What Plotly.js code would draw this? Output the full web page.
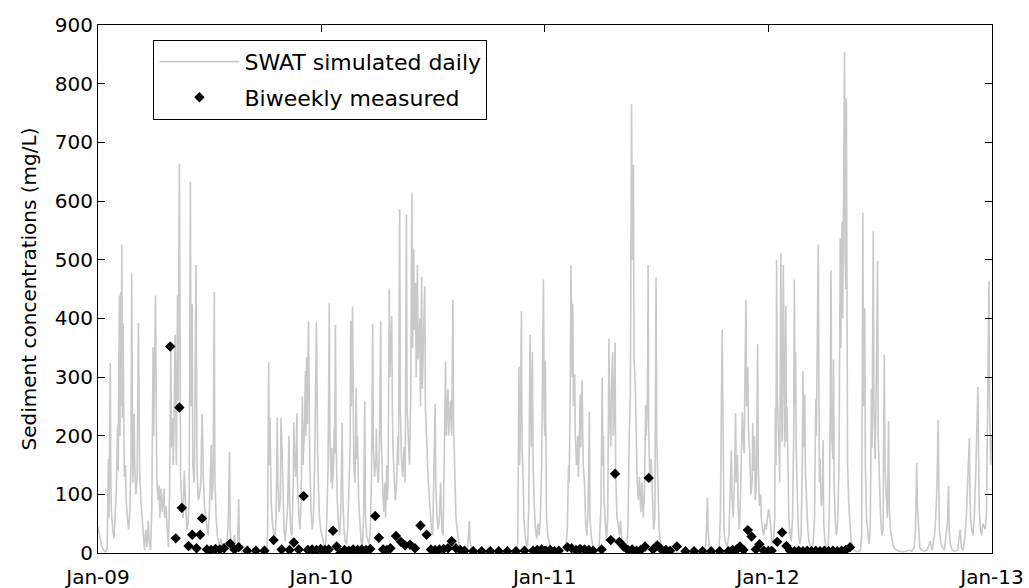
<!DOCTYPE html>
<html>
<head>
<meta charset="utf-8">
<script src="https://cdn.plot.ly/plotly-3.0.1.min.js"></script>
<style>
html,body{margin:0;padding:0;background:#fff;}
</style>
</head>
<body>
<div id="chart" style="width:1029px;height:588px;"></div>
<script>
// Day offsets are counted from 2009-01-01
const startDate = '2009-01-01';

// SWAT simulated daily sediment concentration (mg/L)
const simDay2009 = [0,2,4,6,9,12,15,17,18,20,21,22,24,26,28,30,32,33,35,36,37,38,39,40,41,42,43,45,46,48,50,52,54,55,56,57,59,60,62,64,66,67,68,70,72,74,76,78,80,82,84,86,88,90,91,94,95,96,98,100,101,103,105,108,109,111,113,115,117,119,120,122,123,124,126,127,128,130,131,133,134,135,137,139,141,143,145,147,149,151,152,154,155,157,158,160,161,162,164,166,168,170,171,172,174,176,178,180,182,185,186,188,190,191,193,195,197,199,201,203,205,207,209,211,213,215,216,218,220,223,225,228,230,231,233,236,276,277,279,280,281,282,283,285,287,289,291,293,294,296,298,299,301,302,304,306,308,310,312,313,315,317,319,320,321,323,325,326,328,330,332,334,335,337,339,340,341,342,344,345,346,348,350,352,354,357,358,359,360,362,364];
const simVal2009 = [45,35,22,12,5,2,8,160,60,324,120,70,40,25,60,110,219,140,439,200,445,250,526,230,392,180,130,150,90,60,40,70,160,477,170,120,237,150,100,130,392,240,140,90,60,20,5,40,10,55,15,5,80,351,200,439,220,130,90,115,60,110,70,110,60,80,45,10,100,357,180,230,150,200,372,180,150,439,260,664,260,130,80,60,140,90,40,50,90,633,250,424,150,120,170,491,180,140,90,100,120,237,200,130,80,60,40,30,70,184,90,120,445,130,60,30,20,10,25,12,5,15,8,20,60,173,40,10,5,30,10,5,92,20,5,0,0,30,325,150,230,160,90,50,30,20,60,231,120,70,90,230,170,100,40,20,50,80,200,90,40,30,120,223,170,130,238,120,70,40,90,266,150,200,310,200,334,220,395,250,160,80,40,60,150,394,200,170,120,60,40];

const simDay2010 = [366,368,370,372,374,376,378,379,381,382,383,385,386,387,388,389,391,393,395,397,399,400,402,404,406,408,410,412,413,414,416,417,418,420,422,423,424,426,428,430,432,434,436,437,439,441,443,445,447,449,450,452,454,455,456,458,460,462,463,465,467,469,470,472,473,474,476,477,480,481,482,484,486,488,490,491,493,494,496,498,500,502,504,505,507,509,511,513,514,516,517,519,520,522,523,526,527,529,530,532,534,535,537,539,541,543,545,547,549,551,552,554,556,558,560,562,564,566,568,569,571,572,573,575,576,578,580,581,583,585,587,589,591,594,597,600,604,607,608,611,615,684,686,688,689,690,692,693,695,696,698,700,702,704,706,707,708,710,711,713,715,717,719,721,723,725,728,729,730];
const simVal2010 = [30,20,10,15,60,150,426,200,120,179,110,150,214,170,389,200,90,50,30,80,222,100,40,20,15,40,120,180,396,250,420,200,150,120,282,160,200,90,40,20,10,60,259,70,30,20,15,40,130,390,180,130,160,212,150,120,180,396,200,120,70,120,60,150,90,120,451,300,404,250,180,130,90,120,200,150,586,250,160,130,180,120,577,250,180,150,260,614,350,519,380,460,300,491,330,400,250,471,280,380,455,250,180,140,100,60,40,30,120,255,120,60,40,60,120,40,30,150,327,200,240,280,200,240,260,200,432,220,120,60,40,20,10,5,3,2,10,55,20,2,0,0,20,318,150,200,412,180,120,60,30,15,10,80,372,200,180,343,150,80,40,25,50,30,60,150,466,250,200];

const simDay2011 = [731,732,733,735,738,741,744,748,752,756,760,764,767,769,770,772,773,774,775,776,777,779,780,782,784,785,786,788,789,791,792,793,795,797,799,801,803,804,806,808,810,813,816,819,822,824,825,826,827,829,831,833,835,836,838,839,841,842,843,845,846,848,850,852,854,856,858,860,864,866,868,870,872,873,875,876,878,879,881,883,885,887,889,891,893,895,896,898,899,900,902,904,906,908,910,912,913,915,917,919,921,924,928,932,936,992,994,996,997,999,1002,1005,1010,1015,1017,1020,1021,1022,1023,1025,1028,1031,1033,1035,1036,1038,1040,1042,1043,1045,1046,1048,1050,1053,1054,1056,1057,1059,1060,1062,1063,1065,1067,1069,1070,1071,1073,1074,1076,1078,1079,1081,1083,1084,1086,1088,1090,1092,1094];
const simVal2011 = [328,120,60,30,15,8,5,3,10,4,8,3,40,150,120,300,491,380,300,425,250,305,200,150,200,130,160,270,180,294,160,150,120,50,30,80,241,60,30,15,10,5,3,10,80,299,150,200,90,40,20,60,365,250,180,280,342,200,220,359,140,60,50,30,55,20,10,5,8,40,190,270,765,500,662,330,289,200,130,90,130,70,120,60,100,252,200,270,491,200,120,160,90,40,60,470,200,120,40,20,10,5,3,2,0,0,30,95,40,10,5,3,2,5,60,381,200,136,40,20,10,30,110,175,100,60,120,238,120,167,80,40,100,240,200,170,280,432,250,316,210,170,100,120,221,140,199,90,120,356,150,80,100,60,40,30,50,40,60];

const simDay2012 = [1096,1098,1100,1102,1104,1106,1107,1108,1109,1110,1112,1113,1114,1116,1117,1118,1120,1121,1122,1124,1125,1126,1127,1129,1131,1133,1135,1137,1138,1139,1140,1141,1143,1145,1147,1149,1151,1152,1153,1155,1156,1158,1160,1162,1164,1166,1169,1171,1173,1174,1177,1178,1179,1180,1182,1184,1185,1186,1188,1190,1193,1195,1196,1198,1199,1201,1202,1203,1205,1207,1209,1211,1213,1214,1216,1217,1218,1220,1221,1222,1223,1224,1225,1227,1229,1231,1233,1236,1239,1242,1246,1248,1250,1251,1253,1254,1256,1258,1260,1262,1264,1265,1267,1268,1270,1272,1274,1275,1277,1279,1281,1283,1285,1286,1288,1290,1292,1293,1295,1297,1299,1301,1305,1310,1315,1320,1325,1330,1334,1336,1338,1339,1341,1343,1346,1350,1355,1360,1363,1367,1369,1371,1373,1374,1375,1377,1380,1383,1386,1388,1390,1391,1393,1396,1400,1405,1409,1411,1414,1417,1419,1421,1424,1425,1426,1428,1430,1432,1434,1438,1439,1440,1442,1444,1446,1448,1450,1452,1454,1456,1457,1459,1460];
const simVal2012 = [75,60,30,15,20,60,248,150,500,280,200,180,120,511,250,190,491,240,180,421,190,250,180,60,30,20,60,200,466,250,342,180,90,30,15,30,150,310,180,270,140,80,40,20,10,5,20,60,262,200,526,200,120,160,80,110,192,50,20,10,5,60,150,482,200,160,330,120,50,30,60,150,536,350,565,400,600,854,500,450,775,350,150,80,40,20,10,5,3,2,5,30,580,250,417,150,60,30,15,40,280,180,549,250,160,300,498,200,120,60,30,40,338,150,100,60,225,80,40,25,15,8,5,3,2,3,5,3,10,40,154,80,30,10,5,3,5,20,5,30,60,110,227,90,40,20,10,5,30,50,114,40,15,5,3,5,40,10,5,30,60,120,196,100,60,40,30,60,120,283,190,80,40,30,50,45,40,70,299,464,250,150,200];

// Biweekly measured sediment concentration (mg/L)
const measDay = [118,127,133,137,148,154,161,167,170,178,185,192,199,206,216,223,230,244,258,272,287,300,313,320,328,336,343,350,357,364,371,377,384,390,396,403,410,417,424,431,438,445,453,459,466,472,478,487,495,502,510,518,527,537,544,551,558,565,572,578,585,592,599,613,627,641,655,669,683,697,711,718,725,732,739,746,753,767,774,781,788,795,802,809,823,838,845,852,859,866,873,880,887,894,900,907,914,921,928,935,946,960,974,988,1002,1016,1030,1037,1044,1049,1055,1062,1068,1075,1081,1088,1095,1101,1110,1118,1125,1131,1138,1145,1152,1159,1166,1173,1180,1187,1194,1201,1208,1215,1222,1229];
const measVal = [352,25,248,77,12,31,8,31,59,6,5,7,6,8,16,6,10,4,4,4,22,6,5,18,6,97,5,6,5,7,5,6,38,11,0,5,4,6,5,6,5,7,63,26,6,5,8,29,19,13,14,8,47,31,6,5,6,7,8,20,8,5,4,3,3,3,3,3,3,4,4,5,6,4,5,3,4,10,8,5,7,6,5,4,6,22,135,19,11,5,6,4,5,11,128,6,13,6,5,4,11,3,3,3,3,3,3,5,6,11,5,39,28,6,15,4,3,4,19,35,12,4,3,4,3,4,3,4,3,4,3,4,3,4,5,10];

// Axis ticks
const tickDates = ['2009-01-01','2010-01-01','2011-01-01','2012-01-01','2013-01-01'];
const tickLabels = ['Jan-09','Jan-10','Jan-11','Jan-12','Jan-13'];

function toDate(d) {
  const t = Date.UTC(2009, 0, 1) + d * 86400000;
  return new Date(t).toISOString().slice(0, 10);
}

const simDays = simDay2009.concat(simDay2010, simDay2011, simDay2012);
const simVals = simVal2009.concat(simVal2010, simVal2011, simVal2012);

const FONT = 'DejaVu Sans, Arial, sans-serif';

const traces = [
  {
    type: 'scatter', mode: 'lines', name: 'SWAT simulated daily',
    x: simDays.map(toDate), y: simVals,
    line: {color: '#c9c9c9', width: 1.6},
    legendgroup: 'a', hoverinfo: 'skip'
  },
  {
    type: 'scatter', mode: 'markers', name: 'Biweekly measured',
    x: measDay.map(toDate), y: measVal,
    marker: {symbol: 'diamond', size: 8, color: '#000000', line: {width: 0}},
    legendgroup: 'b', hoverinfo: 'skip'
  }
];

const axisCommon = {
  showline: true, linecolor: '#000', linewidth: 1, mirror: 'ticks',
  ticks: 'inside', ticklen: 7, tickwidth: 1, tickcolor: '#000',
  showgrid: false, zeroline: false,
  tickfont: {family: FONT, size: 20, color: '#000'}
};

const layout = {
  width: 1029, height: 588,
  margin: {l: 98, r: 37, t: 25, b: 35},
  paper_bgcolor: '#fff', plot_bgcolor: '#fff',
  showlegend: true,
  xaxis: Object.assign({}, axisCommon, {
    type: 'date', range: [startDate, '2013-01-01'],
    tickmode: 'array', tickvals: tickDates, ticktext: tickLabels,
    ticklabelstandoff: 6
  }),
  yaxis: Object.assign({}, axisCommon, {
    range: [0, 900], tickmode: 'linear', tick0: 0, dtick: 100,
    title: {text: 'Sediment concentrations (mg/L)', font: {family: FONT, size: 20, color: '#000'}, standoff: 12}
  }),
  legend: {
    x: 0.062, y: 0.972, xanchor: 'left', yanchor: 'top',
    bgcolor: '#fff', bordercolor: '#000', borderwidth: 1,
    font: {family: FONT, size: 22, color: '#000'},
    traceorder: 'grouped', tracegroupgap: 4, itemwidth: 80
  }
};

Plotly.newPlot('chart', traces, layout, {staticPlot: true, displayModeBar: false});
</script>
</body>
</html>
